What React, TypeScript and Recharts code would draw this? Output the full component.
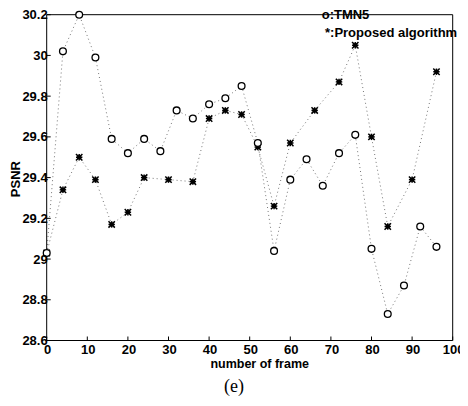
import React from "react";
import { LineChart, Line, XAxis, YAxis, Label } from "recharts";

// ---- data ----
const tmn5Frames = [0, 4, 8, 12, 16, 20, 24, 28, 32, 36, 40, 44, 48, 52, 56, 60, 64, 68, 72, 76, 80, 84, 88, 92, 96];
const tmn5Psnr = [29.03, 30.02, 30.2, 29.99, 29.59, 29.52, 29.59, 29.53, 29.73, 29.69, 29.76, 29.79, 29.85, 29.57, 29.04, 29.39, 29.49, 29.36, 29.52, 29.61, 29.05, 28.73, 28.87, 29.16, 29.06];

const proposedFrames = [0, 4, 8, 12, 16, 20, 24, 30, 36, 40, 44, 48, 52, 56, 60, 66, 72, 76, 80, 84, 90, 96];
const proposedPsnr = [29.03, 29.34, 29.5, 29.39, 29.17, 29.23, 29.4, 29.39, 29.38, 29.69, 29.73, 29.71, 29.55, 29.26, 29.57, 29.73, 29.87, 30.05, 29.6, 29.16, 29.39, 29.92];

const xTicks = [0, 10, 20, 30, 40, 50, 60, 70, 80, 90, 100];
const yTicks = [28.6, 28.8, 29, 29.2, 29.4, 29.6, 29.8, 30, 30.2];
const yTickLabels = ["28.6", "28.8", "29", "29.2", "29.4", "29.6", "29.8", "30", "30.2"];

const tmn5Data = tmn5Frames.map((f, i) => ({ frame: f, psnr: tmn5Psnr[i] }));
const proposedData = proposedFrames.map((f, i) => ({ frame: f, psnr: proposedPsnr[i] }));

const FONT = "'Liberation Sans', Arial, Helvetica, sans-serif";

const LeftTick = (props: any) => {
  const { x, y, payload } = props;
  const idx = yTicks.findIndex((t) => Math.abs(t - payload.value) < 1e-6);
  return (
    <g>
      <line x1={x} y1={y} x2={x + 4} y2={y} stroke="#000" strokeWidth={1} />
      <text x={x + 1} y={y} textAnchor="end" dominantBaseline="central" fontFamily={FONT} fontWeight="bold" fontSize={13} fill="#000">
        {idx >= 0 ? yTickLabels[idx] : payload.value}
      </text>
    </g>
  );
};

const RightTick = (props: any) => {
  const { x, y } = props;
  return <line x1={x} y1={y} x2={x - 4} y2={y} stroke="#000" strokeWidth={1} />;
};

const BottomTick = (props: any) => {
  const { x, y, payload } = props;
  return (
    <g>
      <line x1={x} y1={y} x2={x} y2={y - 4} stroke="#000" strokeWidth={1} />
      <text x={x + 1} y={y + 9} textAnchor="middle" dominantBaseline="central" fontFamily={FONT} fontWeight="bold" fontSize={13} fill="#000">
        {payload.value}
      </text>
    </g>
  );
};

const TopTick = (props: any) => {
  const { x, y } = props;
  return <line x1={x} y1={y} x2={x} y2={y + 4} stroke="#000" strokeWidth={1} />;
};

const CircleDot = (props: any) => {
  const { cx, cy, index } = props;
  if (cx == null || cy == null) return <g key={`c${index}`} />;
  return <circle key={`c${index}`} cx={cx} cy={cy} r={3.4} fill="#fff" stroke="#000" strokeWidth={1.3} />;
};

const StarDot = (props: any) => {
  const { cx, cy, index } = props;
  if (cx == null || cy == null) return <g key={`s${index}`} />;
  const r = 3.2;
  return (
    <g key={`s${index}`} stroke="#000" strokeWidth={1.5}>
      <line x1={cx - r} y1={cy} x2={cx + r} y2={cy} />
      <line x1={cx} y1={cy - r} x2={cx} y2={cy + r} />
      <line x1={cx - r} y1={cy - r} x2={cx + r} y2={cy + r} />
      <line x1={cx - r} y1={cy + r} x2={cx + r} y2={cy - r} />
      <rect x={cx - 2} y={cy - 2} width={4} height={4} fill="#000" stroke="none" />
    </g>
  );
};

const YLabel = (props: any) => {
  const vb = props.viewBox || {};
  const x = vb.x ?? 37.7;
  const y = vb.y ?? 6.7;
  const height = vb.height ?? 325.8;
  const w = vb.width ?? 1;
  const cx = x + w - 31;
  const cy = y + height / 2 + 1.5;
  return (
    <text x={cx} y={cy} transform={`rotate(-90 ${cx} ${cy})`} textAnchor="middle" dominantBaseline="central" fontFamily={FONT} fontWeight="bold" fontSize={13} fill="#000">
      PSNR
    </text>
  );
};

const XLabel = (props: any) => {
  const vb = props.viewBox || {};
  const x = vb.x ?? 38.7;
  const y = vb.y ?? 332.5;
  const width = vb.width ?? 406;
  const cx = x + width / 2 + 10;
  const cy = y + 23.5;
  return (
    <text x={cx} y={cy} textAnchor="middle" dominantBaseline="central" fontFamily={FONT} fontWeight="bold" fontSize={12.5} fill="#000">
      number of frame
    </text>
  );
};

export default function App() {
  const W = 460;
  const H = 398;
  return (
    <div style={{ position: "relative", width: W, height: H }}>
      <LineChart width={W} height={H} margin={{ top: 5.7, right: 14.3, bottom: 64.5, left: 37.7 }}>
        <XAxis
          xAxisId="b"
          dataKey="frame"
          type="number"
          domain={[0, 100]}
          ticks={xTicks}
          height={1}
          tickSize={0}
          tickMargin={0}
          tickLine={false}
          axisLine={{ stroke: "#000", strokeWidth: 1 }}
          tick={<BottomTick />}
          interval={0}
        >
          <Label content={<XLabel />} />
        </XAxis>
        <XAxis
          xAxisId="t"
          orientation="top"
          type="number"
          domain={[0, 100]}
          ticks={xTicks}
          height={1}
          tickSize={0}
          tickMargin={0}
          tickLine={false}
          axisLine={{ stroke: "#000", strokeWidth: 1 }}
          tick={<TopTick />}
          interval={0}
        />
        <YAxis
          yAxisId="l"
          type="number"
          domain={[28.6, 30.2]}
          ticks={yTicks}
          width={1}
          tickSize={0}
          tickMargin={0}
          tickLine={false}
          axisLine={{ stroke: "#000", strokeWidth: 1 }}
          tick={<LeftTick />}
          interval={0}
        >
          <Label content={<YLabel />} />
        </YAxis>
        <YAxis
          yAxisId="r"
          orientation="right"
          type="number"
          domain={[28.6, 30.2]}
          ticks={yTicks}
          width={1}
          tickSize={0}
          tickMargin={0}
          tickLine={false}
          axisLine={{ stroke: "#000", strokeWidth: 1 }}
          tick={<RightTick />}
          interval={0}
        />
        <Line
          xAxisId="b"
          yAxisId="l"
          data={proposedData}
          dataKey="psnr"
          type="linear"
          stroke="#777"
          strokeWidth={1}
          strokeDasharray="1 3"
          dot={<StarDot />}
          activeDot={false}
          isAnimationActive={false}
        />
        <Line
          xAxisId="b"
          yAxisId="l"
          data={tmn5Data}
          dataKey="psnr"
          type="linear"
          stroke="#777"
          strokeWidth={1}
          strokeDasharray="1 3"
          dot={<CircleDot />}
          activeDot={false}
          isAnimationActive={false}
        />
      </LineChart>
      <svg width={W} height={H} style={{ position: "absolute", left: 0, top: 0, pointerEvents: "none" }}>
        <text x={313.7} y={6} dominantBaseline="central" fontFamily={FONT} fontWeight="bold" fontSize={13} fill="#000">
          o:TMN5
        </text>
        <text x={317} y={24} dominantBaseline="central" fontFamily={FONT} fontWeight="bold" fontSize={13} fill="#000">
          *:Proposed algorithm
        </text>
        <text x={226} y={378} textAnchor="middle" dominantBaseline="central" fontFamily="'Liberation Serif', 'Times New Roman', serif" fontSize={18} fill="#000">
          (e)
        </text>
      </svg>
    </div>
  );
}
